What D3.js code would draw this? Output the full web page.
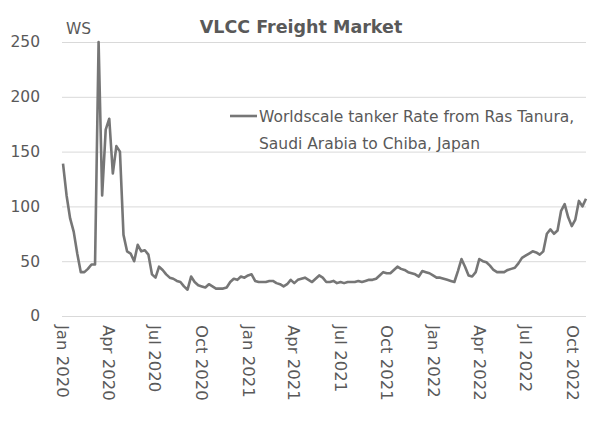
<!DOCTYPE html>
<html>
<head>
<meta charset="utf-8">
<script src="https://cdn.jsdelivr.net/npm/d3@7"></script>
<style>
  body { margin: 0; background: #fff; }
  text { font-family: "DejaVu Sans", Verdana, sans-serif; fill: #595959; }
</style>
</head>
<body>
<div id="chart"></div>
<script>
// weekly WS rates, first week 2020-01-03
var firstWeek = "2020-01-03";
var wsRates = [
  139, 110, 89, 77, 57, 40, 40, 43, 47, 47,
  250, 110, 170, 180, 130, 155, 150, 74, 59, 57,
  50, 65, 59, 60, 56, 38, 35, 45, 42, 38,
  35, 34, 32, 31, 27, 24, 36, 31, 28, 27,
  26, 29, 27, 25, 25, 25, 26, 31, 34, 33,
  36, 35, 37, 38, 32, 31, 31, 31, 32, 32,
  30, 29, 27, 29, 33, 30, 33, 34, 35, 33,
  31, 34, 37, 35, 31, 31, 32, 30, 31, 30,
  31, 31, 31, 32, 31, 32, 33, 33, 34, 37,
  40, 39, 39, 42, 45, 43, 42, 40, 39, 38,
  36, 41, 40, 39, 37, 35, 35, 34, 33, 32,
  31, 41, 52, 45, 37, 36, 40, 52, 50, 49,
  46, 42, 40, 40, 40, 42, 43, 44, 48, 53,
  55, 57, 59, 58, 56, 59, 75, 79, 75, 78,
  96, 102, 90, 82, 88, 105, 100, 107
];
var tickLabels = ["Jan 2020", "Apr 2020", "Jul 2020", "Oct 2020",
  "Jan 2021", "Apr 2021", "Jul 2021", "Oct 2021",
  "Jan 2022", "Apr 2022", "Jul 2022", "Oct 2022"];
var yTicks = [0, 50, 100, 150, 200, 250];
var seriesName = ["Worldscale tanker Rate from Ras Tanura,", "Saudi Arabia to Chiba, Japan"];

var svgWidth = 600;
var svgHeight = 423;

var margin = { top: 42, right: 14, bottom: 107, left: 62 };
var width = svgWidth - margin.left - margin.right;
var height = svgHeight - margin.top - margin.bottom;

var parseMonth = d3.timeParse("%b %Y");
var parseDay = d3.timeParse("%Y-%m-%d");
var start = parseDay(firstWeek);

var data = wsRates.map(function(v, i) {
  return { date: d3.timeDay.offset(start, i * 7), value: v };
});

var svg = d3.select("#chart")
  .append("svg")
  .attr("width", svgWidth)
  .attr("height", svgHeight);

var chartGroup = svg.append("g")
  .attr("transform", `translate(${margin.left},${margin.top})`);

var xTimeScale = d3.scaleTime()
  .domain([parseMonth("Jan 2020"), data[data.length - 1].date])
  .range([0, width]);

var yLinearScale = d3.scaleLinear()
  .domain([0, 250])
  .range([height, 0]);

// gridlines
chartGroup.append("g")
  .call(d3.axisLeft(yLinearScale).tickValues(yTicks).tickSize(-width).tickFormat(""))
  .call(g => g.select(".domain").remove())
  .call(g => g.selectAll("line").attr("stroke", "#d9d9d9").attr("stroke-width", 1));

// y labels
chartGroup.append("g")
  .call(d3.axisLeft(yLinearScale).tickValues(yTicks).tickSize(0).tickPadding(22))
  .call(g => g.select(".domain").remove())
  .call(g => g.selectAll("text")
    .style("font-size", "15.5px")
    .attr("fill", "#595959"));

// x labels, rotated
var bottomAxis = d3.axisBottom(xTimeScale)
  .tickValues(tickLabels.map(parseMonth))
  .tickFormat(d3.timeFormat("%b %Y"))
  .tickSize(0);

chartGroup.append("g")
  .attr("transform", `translate(0, ${height})`)
  .call(bottomAxis)
  .call(g => g.select(".domain").remove())
  .call(g => g.selectAll("text")
    .attr("transform", "rotate(90)")
    .attr("x", 9)
    .attr("y", 0)
    .attr("dy", "0.35em")
    .attr("text-anchor", "start")
    .style("font-size", "16.5px")
    .attr("fill", "#595959"));

var line = d3.line()
  .x(d => xTimeScale(d.date))
  .y(d => yLinearScale(d.value));

chartGroup.append("path")
  .datum(data)
  .attr("fill", "none")
  .attr("stroke", "#767676")
  .attr("stroke-width", 2.6)
  .attr("stroke-linejoin", "round")
  .attr("d", line);

// title and unit
svg.append("text")
  .attr("x", 301)
  .attr("y", 33)
  .attr("text-anchor", "middle")
  .style("font-size", "17.5px")
  .style("font-weight", "bold")
  .text("VLCC Freight Market");

svg.append("text")
  .attr("x", 66)
  .attr("y", 34)
  .style("font-size", "15.5px")
  .text("WS");

// legend
var legend = svg.append("g")
  .attr("transform", "translate(230, 116)");

legend.append("line")
  .attr("x1", 0)
  .attr("x2", 27)
  .attr("y1", 0)
  .attr("y2", 0)
  .attr("stroke", "#767676")
  .attr("stroke-width", 2.6);

legend.selectAll("text.leg")
  .data(seriesName)
  .enter()
  .append("text")
  .attr("class", "leg")
  .attr("x", 29)
  .attr("y", (d, i) => 5.5 + i * 27)
  .style("font-size", "15.5px")
  .text(d => d);
</script>
</body>
</html>
